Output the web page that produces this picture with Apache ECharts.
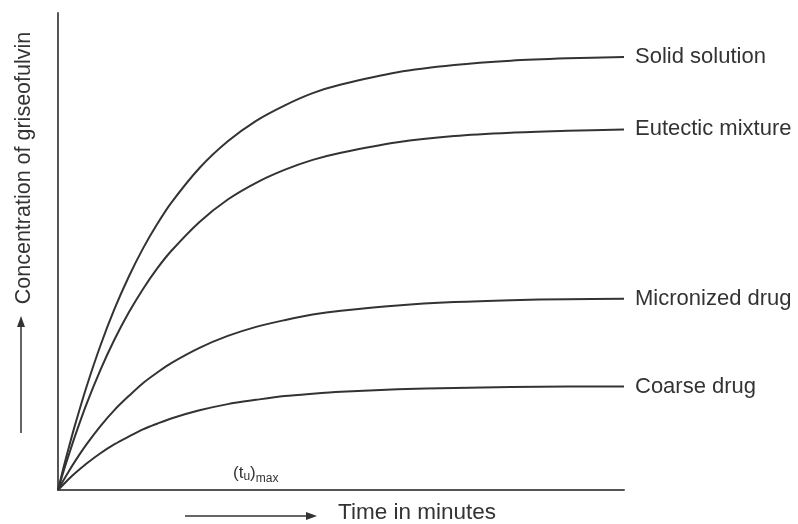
<!DOCTYPE html>
<html><head><meta charset="utf-8">
<script src="https://cdn.jsdelivr.net/npm/echarts@6/dist/echarts.min.js"></script>
<style>html,body{margin:0;padding:0;background:#fff}#c{width:798px;height:524px}</style>
</head><body><div id="c"></div>
<script>
const times = [0, 1, 2, 3, 5, 7.5, 10, 12.5, 15, 17.5, 20, 25, 30, 35, 40, 45, 50, 60, 70, 80, 90, 100];
const seriesNames = ['Solid solution', 'Eutectic mixture', 'Micronized drug', 'Coarse drug'];
const solidSolution   = [0, 4.8, 9.3, 13.6, 21.5, 30.3, 38.0, 44.7, 50.6, 55.7, 60.2, 67.5, 73.1, 77.4, 80.6, 83.2, 85.0, 87.6, 89.1, 90.0, 90.5, 90.8];
const eutecticMixture = [0, 4.0, 7.7, 11.3, 17.9, 25.2, 31.6, 37.2, 42.1, 46.4, 50.1, 56.2, 60.9, 64.4, 67.1, 69.2, 70.7, 72.9, 74.2, 74.9, 75.3, 75.6];
const micronizedDrug  = [0, 2.1, 4.1, 6.0, 9.5, 13.4, 16.8, 19.7, 22.4, 24.6, 26.6, 29.8, 32.3, 34.2, 35.6, 36.8, 37.6, 38.7, 39.4, 39.8, 40.0, 40.1];
const coarseDrug      = [0, 1.2, 2.4, 3.5, 5.5, 7.7, 9.6, 11.2, 12.7, 13.9, 15.0, 16.7, 18.0, 18.9, 19.7, 20.2, 20.6, 21.1, 21.4, 21.6, 21.7, 21.7];
const allValues = [solidSolution, eutecticMixture, micronizedDrug, coarseDrug];

const FONT = 'Liberation Sans, Arial, sans-serif';
const TXT = '#333';

const chart = echarts.init(document.getElementById('c'), null, {renderer: 'canvas'});
chart.setOption({
  backgroundColor: '#fff',
  animation: false,
  grid: {left: 58, right: 174, top: 13, bottom: 34},
  xAxis: {type: 'value', min: 0, max: 100,
    axisLine: {show: true, lineStyle: {color: '#555', width: 2}},
    axisTick: {show: false}, axisLabel: {show: false}, splitLine: {show: false}},
  yAxis: {type: 'value', min: 0, max: 100,
    axisLine: {show: true, lineStyle: {color: '#555', width: 2}},
    axisTick: {show: false}, axisLabel: {show: false}, splitLine: {show: false}},
  series: seriesNames.map((n, i) => ({
    name: n, type: 'line', smooth: 0.3, symbol: 'none',
    data: times.map((t, j) => [t, allValues[i][j]]),
    lineStyle: {color: '#333', width: 2},
    endLabel: {show: true, formatter: n, distance: 11, fontSize: 22, fontFamily: FONT, color: TXT}
  })),
  graphic: [
    {type: 'text', x: 24, y: 168, rotation: Math.PI / 2,
      style: {text: 'Concentration of griseofulvin', font: '21.5px ' + FONT, fill: TXT, align: 'center', verticalAlign: 'middle'}},
    {type: 'line', shape: {x1: 21, y1: 433, x2: 21, y2: 325}, style: {stroke: '#333', lineWidth: 1.5}},
    {type: 'polygon', shape: {points: [[21, 316], [17, 327], [25, 327]]}, style: {fill: '#333'}},
    {type: 'line', shape: {x1: 185, y1: 516, x2: 308, y2: 516}, style: {stroke: '#333', lineWidth: 1.5}},
    {type: 'polygon', shape: {points: [[317, 516], [306, 512], [306, 520]]}, style: {fill: '#333'}},
    {type: 'text', x: 338, y: 513,
      style: {text: 'Time in minutes', font: '22.5px ' + FONT, fill: TXT, align: 'left', verticalAlign: 'middle'}},
    {type: 'text', x: 233, y: 473,
      style: {text: '(t{s|u}){m|max}', font: '17px ' + FONT, fill: TXT, align: 'left', verticalAlign: 'middle',
        rich: {s: {fontSize: 12, fontFamily: FONT, fill: TXT, padding: [8, 0, 0, 0]},
               m: {fontSize: 12, fontFamily: FONT, fill: TXT, padding: [11, 0, 0, 0]}}}}
  ]
});
</script></body></html>
